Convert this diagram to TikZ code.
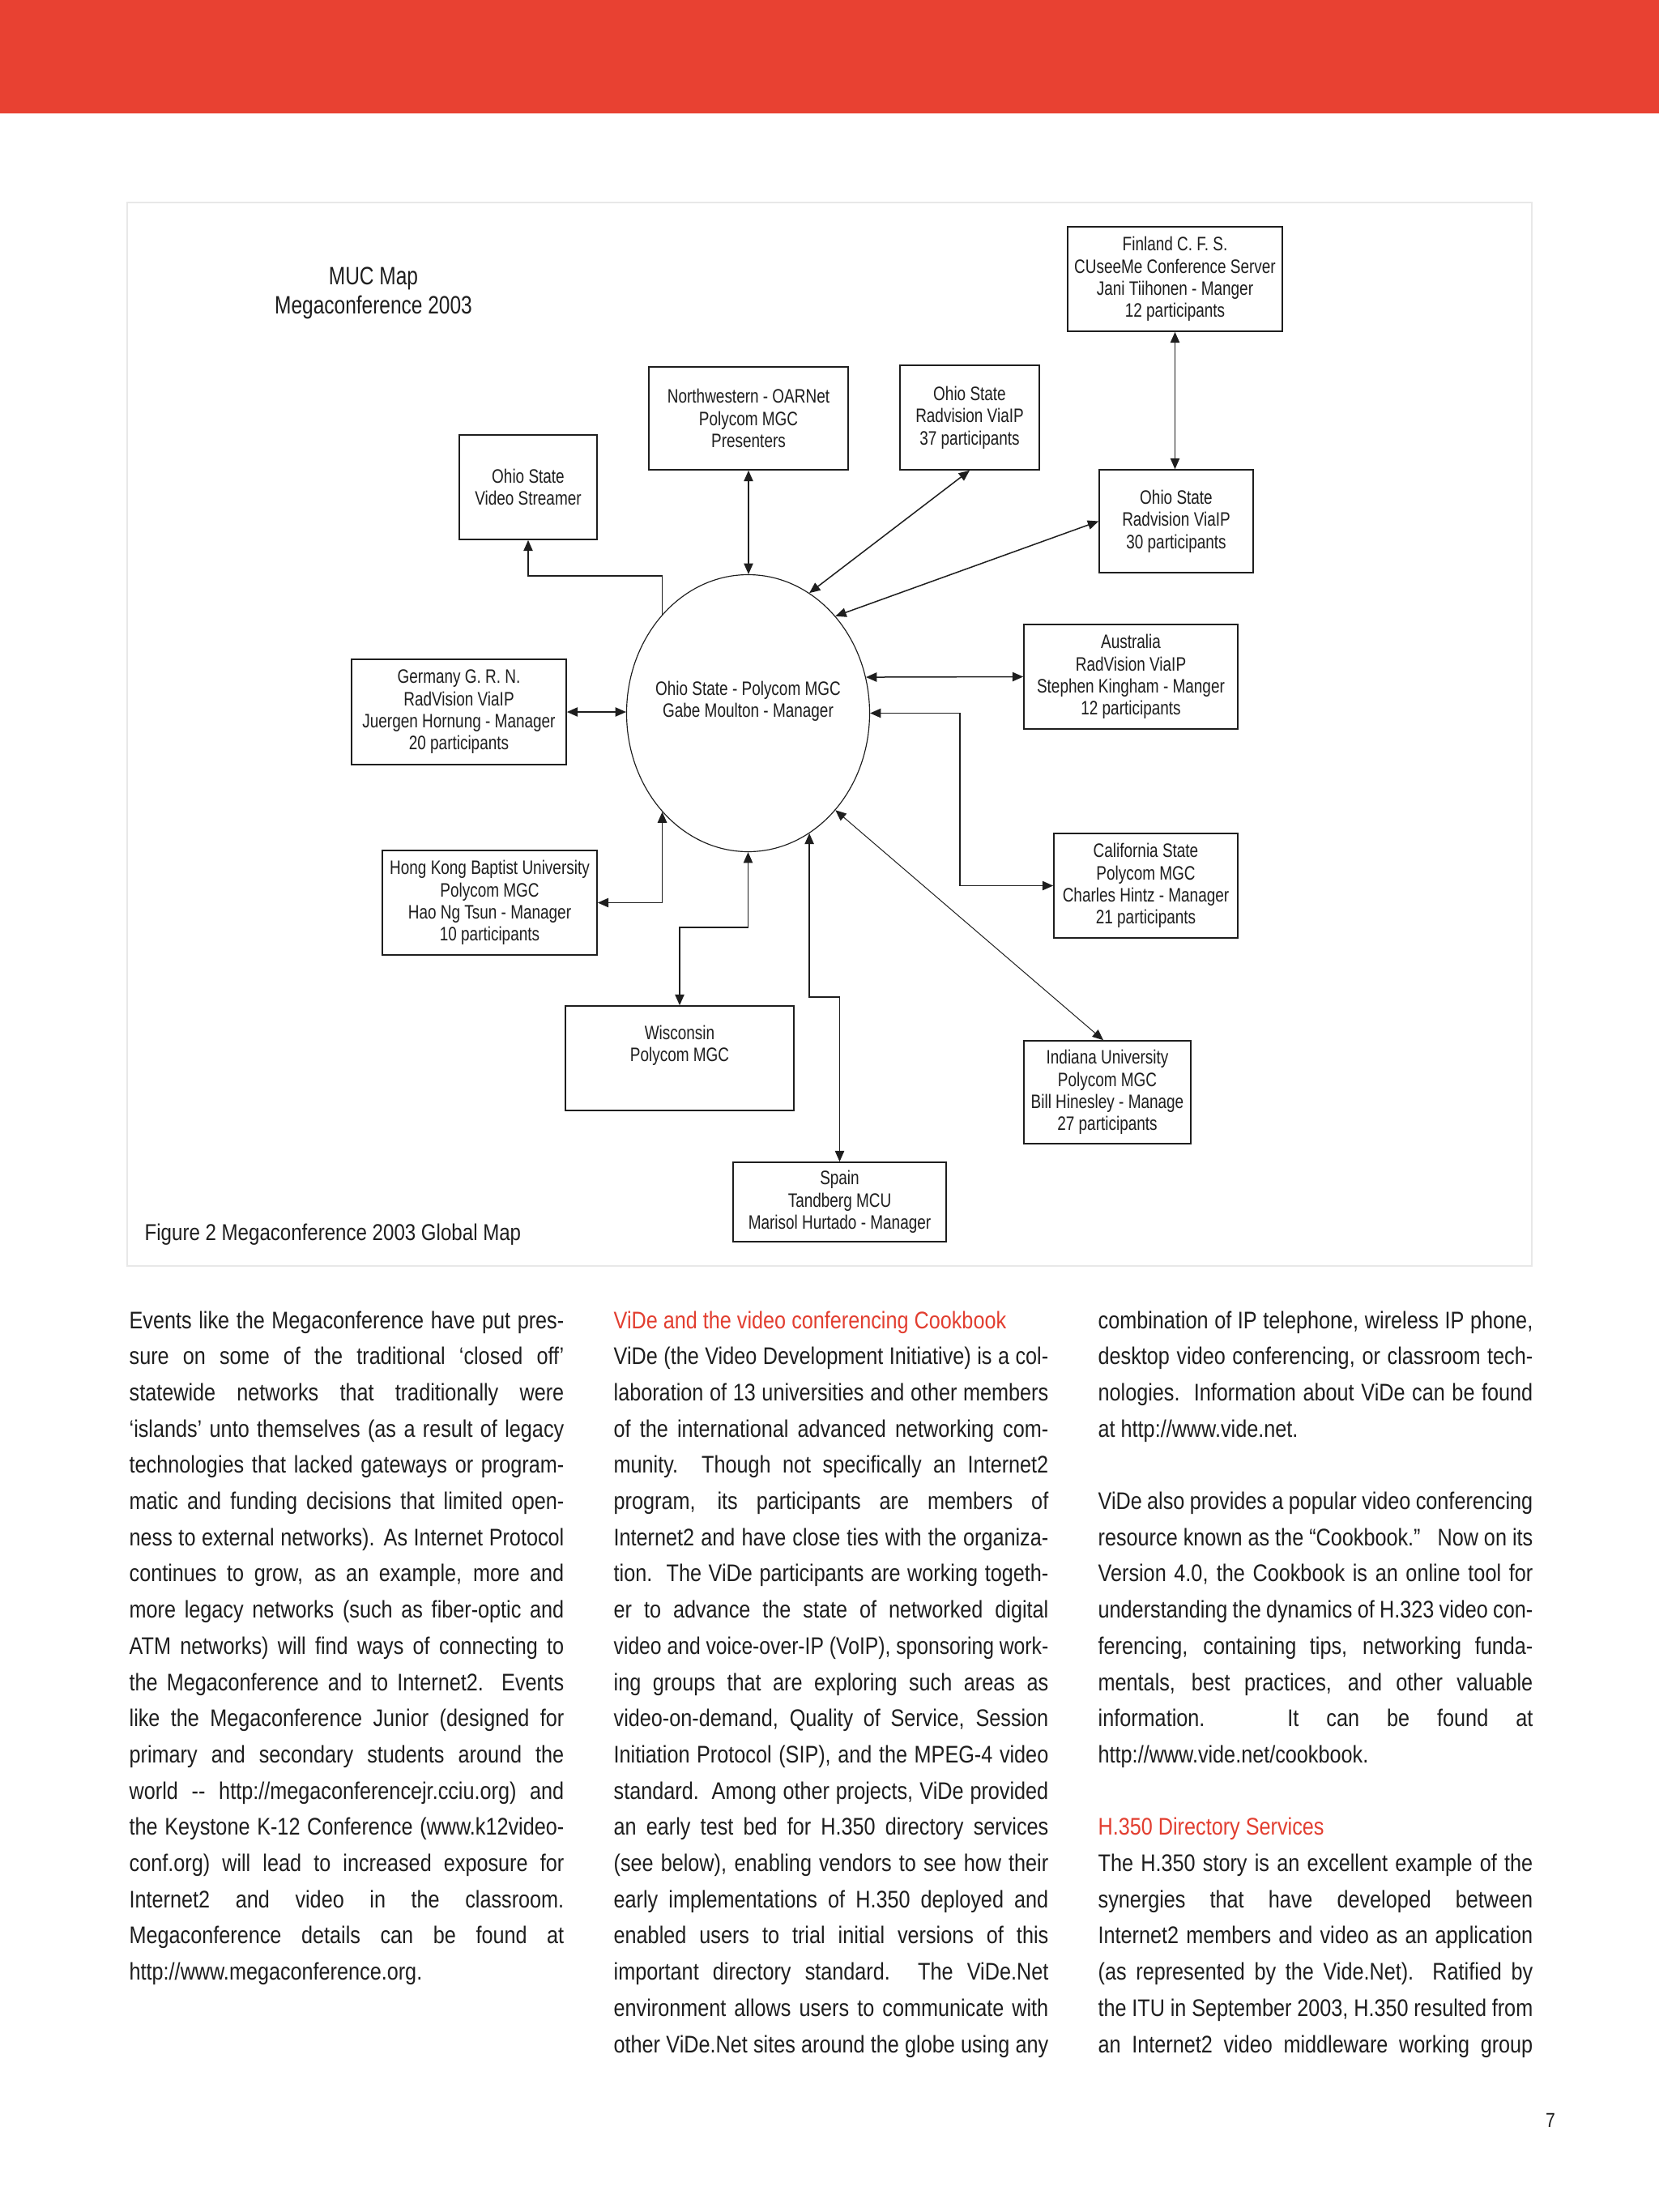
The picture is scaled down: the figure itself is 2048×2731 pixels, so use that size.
\documentclass[tikz,border=0pt]{standalone}
\usepackage{fontspec}
\usepackage{graphicx}
\usetikzlibrary{arrows.meta,shapes.geometric}
\newfontfamily\dfont[FakeStretch=0.79]{Liberation Sans}
\newfontfamily\bodyfont[FakeStretch=0.85]{Liberation Sans}
\definecolor{bandred}{RGB}{232,65,50}
\definecolor{headred}{RGB}{226,62,48}
\definecolor{ink}{RGB}{30,30,30}
\newcommand\myJ[1]{\noindent\makebox[\linewidth][s]{#1}\par}
\newcommand\myL[1]{\noindent\makebox[\linewidth][l]{#1}\par}
\newcommand\myS[1]{\noindent\resizebox{\linewidth}{\height}{#1}\par}
\begin{document}
\begin{tikzpicture}[x=0.3pt,y=-0.3pt,
  box/.style={draw=ink, line width=0.5pt, inner sep=0pt, align=center, text=ink,
    font=\dfont\fontsize{7.2}{8.2}\selectfont},
  btext/.style={inner sep=0pt, align=center, text=ink, font=\dfont\fontsize{7.2}{8.2}\selectfont},
  conn/.style={draw=ink, line width=0.45pt, {Triangle[length=4pt,width=3.4pt]}-{Triangle[length=4pt,width=3.4pt]}},
  thinconn/.style={draw=ink, line width=0.3pt, {Triangle[length=4pt,width=3.4pt]}-{Triangle[length=4pt,width=3.4pt]}},
  oneway/.style={draw=ink, line width=0.45pt, -{Triangle[length=4pt,width=3.4pt]}},
  coltext/.style={anchor=base west, inner sep=0pt, text=ink, font=\bodyfont\fontsize{8.9}{13.41}\selectfont}
]
\useasboundingbox (0,0) rectangle (2048,2731);
\fill[white] (0,0) rectangle (2048,2731);
\fill[bandred] (0,0) rectangle (2048,140);
\draw[gray!18, line width=0.6pt] (157,250) rectangle (1891,1563);

% title
\node[btext, font=\dfont\fontsize{9.3}{10.6}\selectfont] (title) at (461,362) {MUC Map\\Megaconference 2003};

% boxes
\node[box, minimum width=79.5pt, minimum height=38.7pt] (fin) at (1450.5,344.5)
  {Finland C. F. S.\\CUseeMe Conference Server\\Jani Tiihonen - Manger\\12 participants};
\node[box, minimum width=57pt, minimum height=38.1pt] (o30) at (1452,643.5)
  {Ohio State\\Radvision ViaIP\\30 participants};
\node[box, minimum width=51.6pt, minimum height=38.7pt] (o37) at (1197,515.5)
  {Ohio State\\Radvision ViaIP\\37 participants};
\node[box, minimum width=73.8pt, minimum height=38.1pt] (nw) at (924,516.5)
  {Northwestern - OARNet\\Polycom MGC\\Presenters};
\node[box, minimum width=51pt, minimum height=38.7pt] (vs) at (652,601.5)
  {Ohio State\\Video Streamer};
\node[box, minimum width=79.5pt, minimum height=39pt] (ger) at (566.5,879)
  {Germany G. R. N.\\RadVision ViaIP\\Juergen Hornung - Manager\\20 participants};
\node[box, minimum width=79.2pt, minimum height=38.7pt] (aus) at (1396,835.5)
  {Australia\\RadVision ViaIP\\Stephen Kingham - Manger\\12 participants};
\node[box, minimum width=68.1pt, minimum height=38.7pt] (cal) at (1414.5,1093.5)
  {California State\\Polycom MGC\\Charles Hintz - Manager\\21 participants};
\node[box, minimum width=61.8pt, minimum height=38.1pt] (ind) at (1367,1348.5)
  {Indiana University\\Polycom MGC\\Bill Hinesley - Manage\\27 participants};
\node[box, minimum width=78.9pt, minimum height=29.4pt] (spa) at (1036.5,1484)
  {Spain\\Tandberg MCU\\Marisol Hurtado - Manager};
\node[box, minimum width=84.6pt, minimum height=38.7pt] (wis) at (839,1306.5) {};
\node[btext] (wistxt) at (839,1291) {Wisconsin\\Polycom MGC};
\node[box, minimum width=79.5pt, minimum height=38.7pt] (hk) at (604.5,1114.5)
  {Hong Kong Baptist University\\Polycom MGC\\Hao Ng Tsun - Manager\\10 participants};

% hub
\node[draw=ink, ellipse, line width=0.35pt, inner sep=0pt, minimum width=90pt, minimum height=102.6pt] (hub) at (923.5,880.5) {};
\node[btext] (hubtxt) at (923.5,866) {Ohio State - Polycom MGC\\Gabe Moulton - Manager};

% connectors
\coordinate (e1) at (0,711);
\draw[oneway] (hub.131.5) -- (hub.131.5 |- e1) -| (vs.south);
\draw[conn] (fin.south) -- (fin.south |- o30.north);
\draw[conn] (nw.south) -- (nw.south |- hub.north);
\draw[conn] (o37.south) -- (hub.63.4);
\draw[conn] (o30.west) -- (hub.48.8);
\draw[conn] (ger.east) -- (ger.east -| hub.west);
\draw[conn] (hub.17.3) -- (aus.west);
\coordinate (h1) at (1185,0);
\draw[conn] (hub.east) -- (hub.east -| h1) |- (cal.west);
\draw[thinconn] (hub.-48.5) -- ([xshift=-1.5pt]ind.north);
\coordinate (j1) at (0,1231);
\draw[conn] (hub.-63.4) -- (hub.-63.4 |- j1) -| (spa.north);
\coordinate (k1) at (0,1145);
\draw[conn] (hub.south) -- (hub.south |- k1) -| (wis.north);
\draw[conn] (hub.-131.5) |- (hk.east);

% caption
\node[coltext, font=\bodyfont\fontsize{8.5}{10}\selectfont] (caption) at (178,1531) {Figure 2 Megaconference 2003 Global Map};

% column 1
\node[coltext] (col1) at (159,1640) {\parbox[t]{161pt}{%
\myJ{Events like the Megaconference have put pres-}
\myJ{sure on some of the traditional ‘closed off’}
\myJ{statewide networks that traditionally were}
\myJ{‘islands’ unto themselves (as a result of legacy}
\myJ{technologies that lacked gateways or program-}
\myJ{matic and funding decisions that limited open-}
\myJ{ness to external networks). As Internet Protocol}
\myJ{continues to grow, as an example, more and}
\myJ{more legacy networks (such as fiber-optic and}
\myJ{ATM networks) will find ways of connecting to}
\myJ{the Megaconference and to Internet2.\ \ Events}
\myJ{like the Megaconference Junior (designed for}
\myJ{primary and secondary students around the}
\myJ{world -{}- http://megaconferencejr.cciu.org) and}
\myJ{the Keystone K-12 Conference (www.k12video-}
\myJ{conf.org) will lead to increased exposure for}
\myJ{Internet2 and video in the classroom.}
\myJ{Megaconference details can be found at}
\myL{http://www.megaconference.org.}}};

% column 2
\node[coltext] (col2) at (757,1640) {\parbox[t]{161pt}{%
\myL{\color{headred}ViDe and the video conferencing Cookbook}
\myJ{ViDe (the Video Development Initiative) is a col-}
\myJ{laboration of 13 universities and other members}
\myJ{of the international advanced networking com-}
\myJ{munity.\ \ Though not specifically an Internet2}
\myJ{program, its participants are members of}
\myJ{Internet2 and have close ties with the organiza-}
\myJ{tion.\ \ The ViDe participants are working togeth-}
\myJ{er to advance the state of networked digital}
\myS{video and voice-over-IP (VoIP), sponsoring work-}
\myJ{ing groups that are exploring such areas as}
\myJ{video-on-demand, Quality of Service, Session}
\myJ{Initiation Protocol (SIP), and the MPEG-4 video}
\myJ{standard.\ \ Among other projects, ViDe provided}
\myJ{an early test bed for H.350 directory services}
\myJ{(see below), enabling vendors to see how their}
\myJ{early implementations of H.350 deployed and}
\myJ{enabled users to trial initial versions of this}
\myJ{important directory standard.\ \ The ViDe.Net}
\myJ{environment allows users to communicate with}
\myJ{other ViDe.Net sites around the globe using any}}};

% column 3
\node[coltext] (col3) at (1355,1640) {\parbox[t]{161pt}{%
\myJ{combination of IP telephone, wireless IP phone,}
\myJ{desktop video conferencing, or classroom tech-}
\myJ{nologies.\ \ Information about ViDe can be found}
\myL{at http://www.vide.net.}
\myL{}
\myJ{ViDe also provides a popular video conferencing}
\myJ{resource known as the “Cookbook.”\ \ \ Now on its}
\myJ{Version 4.0, the Cookbook is an online tool for}
\myJ{understanding the dynamics of H.323 video con-}
\myJ{ferencing, containing tips, networking funda-}
\myJ{mentals, best practices, and other valuable}
\myJ{information.\ \ \ It can be found at}
\myL{http://www.vide.net/cookbook.}
\myL{}
\myL{\color{headred}H.350 Directory Services}
\myJ{The H.350 story is an excellent example of the}
\myJ{synergies that have developed between}
\myJ{Internet2 members and video as an application}
\myJ{(as represented by the Vide.Net).\ \ Ratified by}
\myJ{the ITU in September 2003, H.350 resulted from}
\myJ{an Internet2 video middleware working group}}};

% page number
\node[coltext, anchor=base, font=\bodyfont\fontsize{7.5}{9}\selectfont] (pnum) at (1914,2626) {7};
\end{tikzpicture}
\end{document}
